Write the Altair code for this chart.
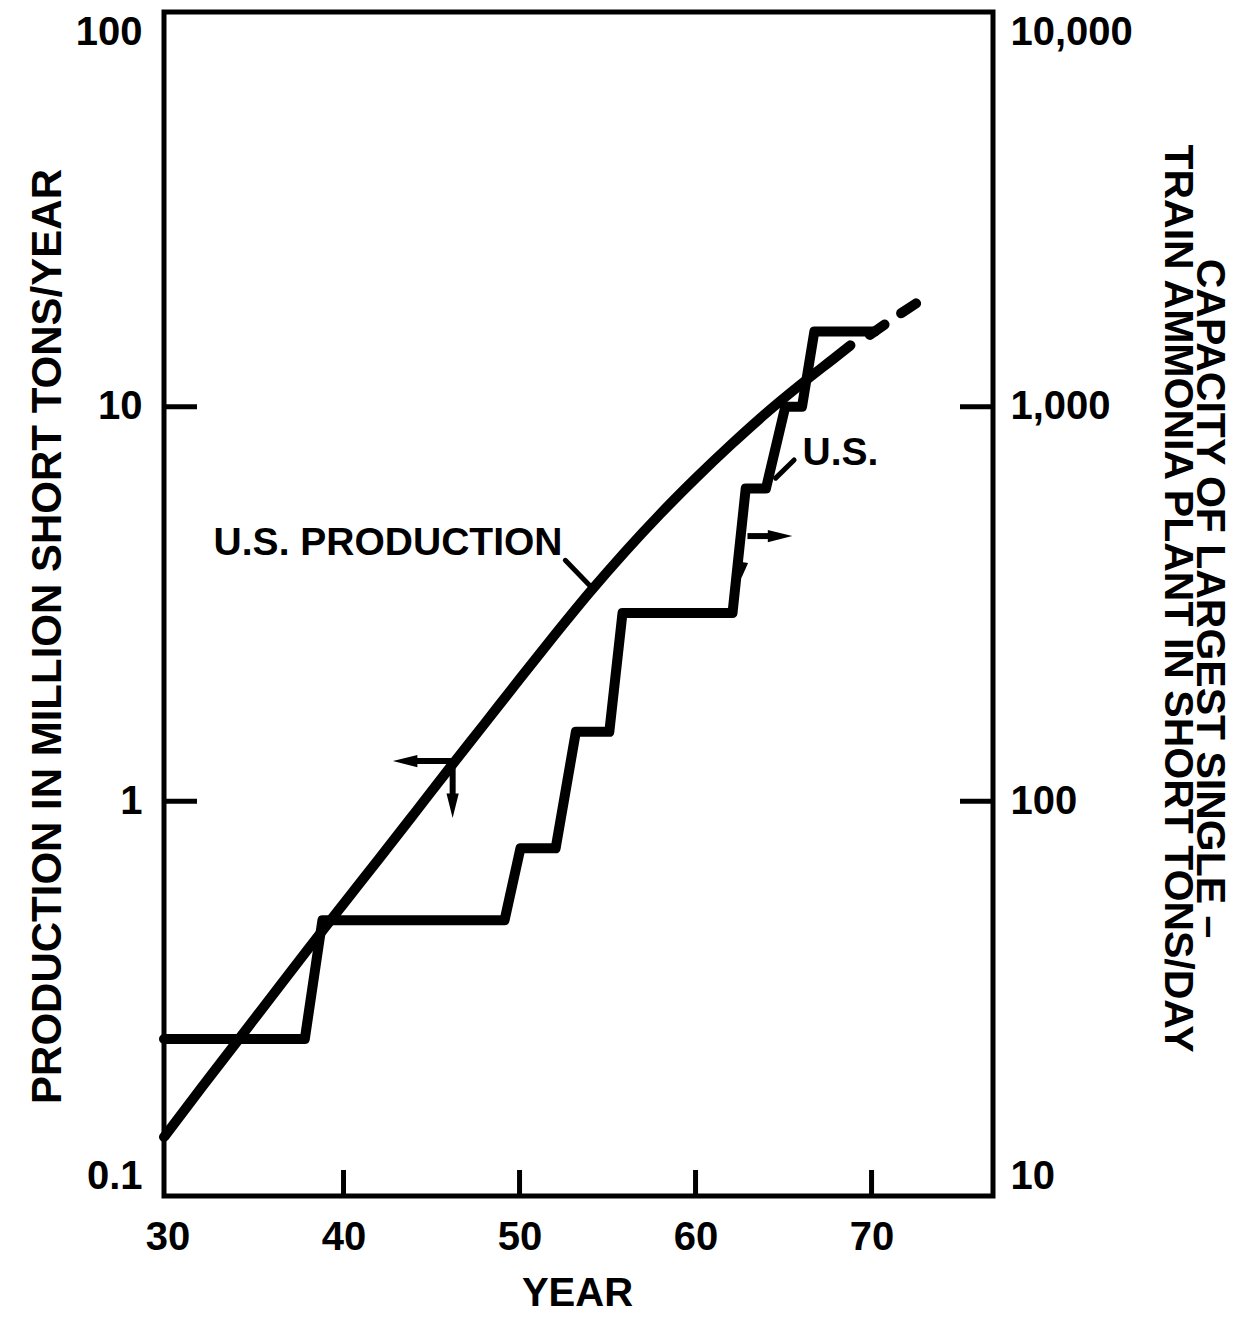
import altair as alt
import pandas as pd

# ---------------- data ----------------
# U.S. production (left axis, million short tons / year)
prod_years = [29.8, 32, 34, 36, 38, 40, 42, 44, 46, 48, 50, 52, 54, 56, 58, 60, 62, 64, 66, 68, 68.8]
prod_values = [0.141, 0.19, 0.248, 0.324, 0.423, 0.55, 0.714, 0.929, 1.21, 1.57, 2.04, 2.64,
               3.39, 4.29, 5.35, 6.58, 8.0, 9.62, 11.4, 13.4, 14.3]
# projected (dashed) part
proj_years = [69.9, 71.3, 72.8]
proj_values = [15.2, 16.8, 18.6]

# capacity of largest single-train ammonia plant (right axis, short tons / day)
step_years = [29.8, 37.8, 38.8, 49.15, 50.05, 52.05, 53.2, 55.1, 55.85, 62.1, 62.85, 64.0,
              65.1, 66.05, 66.75, 70.2]
step_values = [25, 25, 50, 50, 76, 76, 150, 150, 300, 300, 620, 620, 1000, 1000, 1550, 1550]

# axis ticks
x_ticks = [40, 50, 60, 70]
x_labels = [30, 40, 50, 60, 70]
left_ticks = [0.1, 1, 10, 100]
left_inner_ticks = [1, 10]
right_ticks = [10, 100, 1000, 10000]
right_inner_ticks = [100, 1000]

# annotation anchors (data coordinates)
prod_label = {"year": 52.44, "value": 4.52, "text": "U.S. PRODUCTION"}
prod_leader = {"year": 52.6, "value": 4.08, "year2": 54.0, "value2": 3.52}
prod_arrow_left = {"year": 43.9, "value": 1.265, "year2": 46.2, "value2": 1.265}
prod_arrow_left_head = {"year": 43.5, "value": 1.265, "angle": 180, "size": 600}
prod_arrow_down = {"year": 46.2, "value": 1.265, "year2": 46.2, "value2": 1.02}
prod_arrow_down_head = {"year": 46.2, "value": 0.975, "angle": 90, "size": 600}

us_label = {"year": 66.08, "value": 764, "text": "U.S."}
us_leader = {"year": 65.6, "value": 733, "year2": 64.55, "value2": 659}
us_arrow_right = {"year": 62.95, "value": 470, "year2": 64.5, "value2": 470}
us_arrow_right_head = {"year": 64.8, "value": 470, "angle": 0, "size": 600}
us_arrow_down_head = {"year": 62.68, "value": 385, "angle": 100, "size": 260}

# ---------------- styling ----------------
FONT = "Liberation Sans"
W, H = 829, 1184
ARROW = "M1,0L-1,-0.5L-1,0.5Z"

x_scale = alt.Scale(domain=[29.8, 76.9], nice=False, zero=False)
left_scale = alt.Scale(type="log", domain=[0.1, 100], nice=False)
right_scale = alt.Scale(type="log", domain=[10, 10000], nice=False)

x_axis = alt.Axis(values=x_labels, format="d", ticks=False, domain=False, grid=False,
                  labelFont=FONT, labelFontSize=40, labelFontWeight="bold", labelColor="black",
                  labelPadding=21, title="YEAR", titleFont=FONT, titleFontSize=40,
                  titleFontWeight="bold", titleColor="black", titleX=413, titleY=97,
                  titleAlign="center", titleBaseline="middle")
left_axis = alt.Axis(values=left_ticks, format="~g", ticks=False, domain=False, grid=False,
                     labelFlush=True, labelFont=FONT, labelFontSize=40, labelFontWeight="bold",
                     labelColor="black", labelPadding=22,
                     title="PRODUCTION IN MILLION SHORT TONS/YEAR", titleFont=FONT,
                     titleFontSize=42, titleFontWeight="bold", titleColor="black",
                     titleAngle=-90, titleX=-117, titleY=624, titleAlign="center",
                     titleBaseline="middle")
right_axis = alt.Axis(orient="right", values=right_ticks, format=",d", ticks=False, domain=False,
                      grid=False, labelFlush=True, labelFont=FONT, labelFontSize=40,
                      labelFontWeight="bold", labelColor="black", labelPadding=17,
                      title=["CAPACITY OF LARGEST SINGLE –",
                             "TRAIN AMMONIA PLANT IN SHORT TONS/DAY"],
                      titleFont=FONT, titleFontSize=41, titleFontWeight="bold",
                      titleColor="black", titleAngle=90, titleX=215, titleY=586,
                      titleAlign="center", titleBaseline="middle", titleLineHeight=32)


def X(field="year"):
    return alt.X(f"{field}:Q", scale=x_scale, axis=x_axis)


def YL(field="value"):
    return alt.Y(f"{field}:Q", scale=left_scale, axis=left_axis)


def YR(field="value"):
    return alt.Y(f"{field}:Q", scale=right_scale, axis=right_axis)


def df(d):
    return pd.DataFrame([d])


def heads(rows, yenc):
    return alt.Chart(pd.DataFrame(rows)).mark_point(
        shape=ARROW, filled=True, color="black", opacity=1).encode(
        x=X(), y=yenc, angle=alt.Angle("angle:Q", scale=None),
        size=alt.Size("size:Q", scale=None))


# ---------------- left-axis layers ----------------
prod_df = pd.DataFrame({"year": prod_years, "value": prod_values})
proj_df = pd.DataFrame({"year": proj_years, "value": proj_values})

prod_line = alt.Chart(prod_df).mark_line(color="black", strokeWidth=10, strokeCap="round",
                                         strokeJoin="round", interpolate="monotone").encode(
    x=X(), y=YL())
proj_line = alt.Chart(proj_df).mark_line(color="black", strokeWidth=10, strokeCap="round",
                                         strokeDash=[18, 20], interpolate="monotone").encode(
    x=X(), y=YL())

prod_text = alt.Chart(df(prod_label)).mark_text(font=FONT, fontSize=39, fontWeight="bold",
                                                color="black", align="right",
                                                baseline="middle").encode(
    x=X(), y=YL(), text="text:N")

lead_l = alt.Chart(df(prod_leader)).mark_rule(color="black", strokeWidth=5,
                                             strokeCap="round").encode(
    x=X(), x2="year2:Q", y=YL(), y2="value2:Q")
arr_l = alt.Chart(df(prod_arrow_left)).mark_rule(color="black", strokeWidth=6).encode(
    x=X(), x2="year2:Q", y=YL(), y2="value2:Q")
arr_d = alt.Chart(df(prod_arrow_down)).mark_rule(color="black", strokeWidth=6).encode(
    x=X(), x2="year2:Q", y=YL(), y2="value2:Q")
heads_l = heads([prod_arrow_left_head, prod_arrow_down_head], YL())

xt_df = pd.DataFrame({"year": x_ticks})
x_tick_rules = alt.Chart(xt_df).mark_rule(color="black", strokeWidth=5).encode(
    x=X(), y=alt.value(H), y2=alt.value(H - 26))
lt_df = pd.DataFrame({"value": left_inner_ticks})
left_tick_rules = alt.Chart(lt_df).mark_rule(color="black", strokeWidth=5).encode(
    y=YL(), x=alt.value(0), x2=alt.value(33))

left_group = alt.layer(prod_line, proj_line, prod_text, lead_l, arr_l, arr_d, heads_l,
                       x_tick_rules, left_tick_rules)

# ---------------- right-axis layers ----------------
step_df = pd.DataFrame({"year": step_years, "value": step_values})
step_line = alt.Chart(step_df).mark_line(color="black", strokeWidth=10, strokeCap="round",
                                         strokeJoin="round").encode(
    x=X(), y=YR(), order="year:Q")

us_text = alt.Chart(df(us_label)).mark_text(font=FONT, fontSize=39, fontWeight="bold",
                                            color="black", align="left",
                                            baseline="middle").encode(
    x=X(), y=YR(), text="text:N")
lead_r = alt.Chart(df(us_leader)).mark_rule(color="black", strokeWidth=5,
                                           strokeCap="round").encode(
    x=X(), x2="year2:Q", y=YR(), y2="value2:Q")
arr_r = alt.Chart(df(us_arrow_right)).mark_rule(color="black", strokeWidth=6).encode(
    x=X(), x2="year2:Q", y=YR(), y2="value2:Q")
heads_r = heads([us_arrow_right_head, us_arrow_down_head], YR())

rt_df = pd.DataFrame({"value": right_inner_ticks})
right_tick_rules = alt.Chart(rt_df).mark_rule(color="black", strokeWidth=5).encode(
    y=YR(), x=alt.value(W - 33), x2=alt.value(W))

right_group = alt.layer(step_line, us_text, lead_r, arr_r, heads_r, right_tick_rules)

chart = alt.layer(left_group, right_group).resolve_scale(y="independent").properties(
    width=W, height=H,
    autosize=alt.AutoSizeParams(type="none"),
    padding={"left": 156, "top": 4, "right": 247, "bottom": 117},
    background="white",
).configure_view(stroke="black", strokeWidth=5)

chart.save("out.html", embed_options={"renderer": "svg", "actions": False})
